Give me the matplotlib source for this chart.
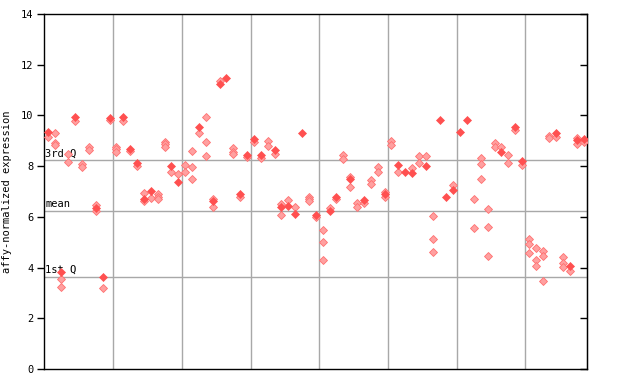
import matplotlib
matplotlib.use("Agg")
import matplotlib.pyplot as plt

# sample index (0..78) and values
filled_idx = [0, 2, 4, 7, 8, 9, 11, 12, 13, 14, 15, 18, 19, 22, 24, 25, 26, 28, 29, 30,
              31, 33, 34, 35, 36, 37, 39, 41, 42, 44, 46, 49, 51, 52, 53, 55, 57, 58, 59,
              60, 61, 66, 68, 69, 74, 76, 77, 78]
filled_val = [9.36, 3.84, 9.92, 6.34, 3.64, 9.9, 9.92, 8.66, 8.14, 6.69, 7.03, 8.02, 7.39,
              9.56, 6.61, 11.25, 11.48, 6.91, 8.43, 9.08, 8.44, 8.64, 6.40, 6.43, 6.13,
              9.32, 6.06, 6.24, 6.80, 7.49, 6.66, 6.90, 8.06, 7.77, 7.74, 8.02, 9.81, 6.78,
              7.07, 9.35, 9.81, 8.56, 9.53, 8.22, 9.32, 4.08, 9.03, 9.07]

hatched_idx = [0, 1, 1, 1, 2, 2, 3, 3, 4, 5, 5, 6, 6, 7, 7, 8, 9, 10, 10, 10, 11, 12, 13,
               14, 14, 15, 16, 16, 16, 17, 17, 17, 18, 19, 20, 20, 21, 21, 21, 22, 23, 23,
               23, 24, 24, 25, 27, 27, 27, 28, 29, 30, 31, 32, 32, 33, 34, 34, 35, 36, 38,
               38, 38, 39, 40, 40, 40, 41, 42, 43, 43, 44, 44, 45, 45, 46, 47, 47, 48, 48,
               49, 49, 50, 50, 51, 53, 54, 54, 55, 56, 56, 56, 59, 62, 62, 63, 63, 63, 64,
               64, 64, 65, 65, 66, 67, 67, 68, 69, 70, 70, 70, 71, 71, 71, 72, 72, 72, 73,
               73, 74, 75, 75, 75, 76, 77, 77, 78]
hatched_val = [9.15, 9.29, 8.93, 8.82, 3.54, 3.22, 8.48, 8.15, 9.77, 8.10, 7.96, 8.74, 8.63,
               6.47, 6.23, 3.18, 9.83, 8.77, 8.68, 8.57, 9.79, 8.61, 8.0, 6.93, 6.64, 6.73,
               6.90, 6.80, 6.72, 8.97, 8.86, 8.77, 7.78, 7.69, 8.03, 7.76, 8.58, 7.95, 7.48,
               9.29, 9.92, 8.94, 8.39, 6.69, 6.38, 11.34, 8.70, 8.57, 8.47, 6.80, 8.37, 8.97,
               8.33, 8.98, 8.78, 8.47, 6.51, 6.06, 6.66, 6.38, 6.80, 6.69, 6.61, 6.0, 5.47,
               5.0, 4.29, 6.34, 6.69, 8.43, 8.30, 7.59, 7.16, 6.53, 6.40, 6.53, 7.45, 7.28,
               7.95, 7.76, 6.99, 6.80, 9.0, 8.85, 7.76, 7.91, 8.39, 8.11, 8.39, 6.02, 5.11,
               4.60, 7.24, 6.69, 5.55, 8.31, 8.07, 7.48, 6.30, 5.59, 4.44, 8.90, 8.75, 8.74,
               8.43, 8.11, 9.41, 8.03, 5.11, 4.92, 4.56, 4.76, 4.29, 4.05, 4.64, 4.44, 3.46,
               9.20, 9.12, 9.16, 4.40, 4.17, 4.01, 3.85, 9.10, 8.87, 8.97]

n_samples = 79
group_lines = [9.5, 19.5, 29.5, 39.5, 49.5, 59.5, 69.5]
stat_names = ["3rd Q", "mean", "1st Q"]
stat_vals = [8.23, 6.22, 3.62]
y_ticks = [0, 2, 4, 6, 8, 10, 12, 14]

mono = "DejaVu Sans Mono"
fig = plt.figure(figsize=(6.4, 3.84), dpi=100)
ax = fig.add_axes([44.3 / 640, 15 / 384, 543 / 640, 355 / 384])
ax.set_xlim(-0.5, n_samples - 0.5)
ax.set_ylim(0, 14)

for gx in group_lines:
    ax.axvline(gx, color="#a8a8a8", lw=1.0, zorder=1)
for name, v in zip(stat_names, stat_vals):
    ax.axhline(v, color="#a8a8a8", lw=1.0, zorder=1)
    ax.text(-0.35, v + 0.08, name, fontsize=7.5, family=mono, ha="left", va="bottom", zorder=3)

ax.plot(hatched_idx, hatched_val, linestyle="none", marker="D", ms=3.8,
        mfc="#ffa0a0", mec="#ff7070", mew=0.6, zorder=4)
ax.plot(filled_idx, filled_val, linestyle="none", marker="D", ms=4.2,
        mfc="#ff5050", mec="#ff5050", mew=0.5, zorder=5)

ax.set_xticks([])
ax.set_yticks(y_ticks)
ax.set_yticklabels([str(t) for t in y_ticks], family=mono, fontsize=7.5)
ax.tick_params(axis="y", direction="out", length=5, width=1, left=True, right=False, pad=3)
axr = ax.secondary_yaxis("right")
axr.set_yticks(y_ticks)
axr.set_yticklabels([])
axr.tick_params(axis="y", direction="in", length=5, width=1)
for s in ax.spines.values():
    s.set_linewidth(1.0)
ax.set_ylabel("affy-normalized expression", family=mono, fontsize=7.5, labelpad=6)

fig.savefig("out.png", dpi=100)
